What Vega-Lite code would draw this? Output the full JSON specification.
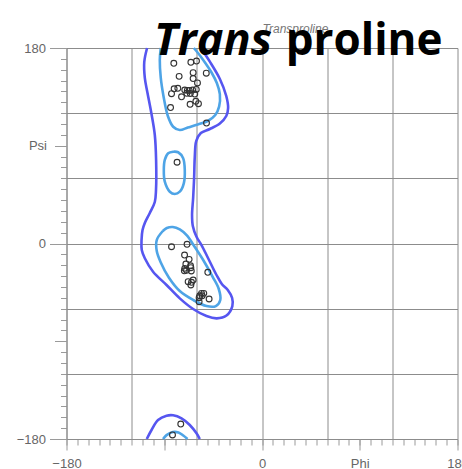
{
  "$schema": "https://vega.github.io/schema/vega-lite/v6.json",
  "autosize": {"type": "none"},
  "width": 391,
  "height": 391,
  "padding": {"left": 66.5, "top": 48, "right": 4.5, "bottom": 30},
  "background": "white",
  "config": {
    "view": {"stroke": null},
    "axis": {"labelFont": "Liberation Sans", "labelFontSize": 13, "labelColor": "#666666", "tickColor": "#9a9a9a", "domainColor": "#8c8c8c", "gridColor": "#8c8c8c", "labelFlush": false, "labelOverlap": false, "title": null}
  },
  "resolve": {"axis": {"x": "independent", "y": "independent"}},
  "datasets": {
    "contours": [
      {"id": "o1", "kind": "outer", "ord": 1, "phi": -105.8, "psi": 180},
      {"id": "o1", "kind": "outer", "ord": 2, "phi": -108.4, "psi": 167.1},
      {"id": "o1", "kind": "outer", "ord": 3, "phi": -107.9, "psi": 152.4},
      {"id": "o1", "kind": "outer", "ord": 4, "phi": -105.6, "psi": 139.5},
      {"id": "o1", "kind": "outer", "ord": 5, "phi": -101.9, "psi": 120.1},
      {"id": "o1", "kind": "outer", "ord": 6, "phi": -98.7, "psi": 99.9},
      {"id": "o1", "kind": "outer", "ord": 7, "phi": -97.5, "psi": 76.9},
      {"id": "o1", "kind": "outer", "ord": 8, "phi": -97.6, "psi": 49.2},
      {"id": "o1", "kind": "outer", "ord": 9, "phi": -98.7, "psi": 38.2},
      {"id": "o1", "kind": "outer", "ord": 10, "phi": -103.3, "psi": 28.1},
      {"id": "o1", "kind": "outer", "ord": 11, "phi": -107.9, "psi": 18.9},
      {"id": "o1", "kind": "outer", "ord": 12, "phi": -110.0, "psi": 12.4},
      {"id": "o1", "kind": "outer", "ord": 13, "phi": -110.9, "psi": 3.2},
      {"id": "o1", "kind": "outer", "ord": 14, "phi": -110.7, "psi": -6.0},
      {"id": "o1", "kind": "outer", "ord": 15, "phi": -107.9, "psi": -13.6},
      {"id": "o1", "kind": "outer", "ord": 16, "phi": -100.3, "psi": -26.0},
      {"id": "o1", "kind": "outer", "ord": 17, "phi": -87.9, "psi": -38.2},
      {"id": "o1", "kind": "outer", "ord": 18, "phi": -75.7, "psi": -50.5},
      {"id": "o1", "kind": "outer", "ord": 19, "phi": -63.4, "psi": -60.3},
      {"id": "o1", "kind": "outer", "ord": 20, "phi": -51.1, "psi": -66.8},
      {"id": "o1", "kind": "outer", "ord": 21, "phi": -41.6, "psi": -68.9},
      {"id": "o1", "kind": "outer", "ord": 22, "phi": -32.7, "psi": -66.3},
      {"id": "o1", "kind": "outer", "ord": 23, "phi": -27.3, "psi": -57.6},
      {"id": "o1", "kind": "outer", "ord": 24, "phi": -27.5, "psi": -50.2},
      {"id": "o1", "kind": "outer", "ord": 25, "phi": -31.5, "psi": -42.8},
      {"id": "o1", "kind": "outer", "ord": 26, "phi": -37.0, "psi": -37.3},
      {"id": "o1", "kind": "outer", "ord": 27, "phi": -41.9, "psi": -29.0},
      {"id": "o1", "kind": "outer", "ord": 28, "phi": -49.6, "psi": -13.6},
      {"id": "o1", "kind": "outer", "ord": 29, "phi": -55.7, "psi": -1.4},
      {"id": "o1", "kind": "outer", "ord": 30, "phi": -60.3, "psi": 6.2},
      {"id": "o1", "kind": "outer", "ord": 31, "phi": -63.7, "psi": 16.1},
      {"id": "o1", "kind": "outer", "ord": 32, "phi": -64.4, "psi": 26.2},
      {"id": "o1", "kind": "outer", "ord": 33, "phi": -63.4, "psi": 41.9},
      {"id": "o1", "kind": "outer", "ord": 34, "phi": -62.5, "psi": 60.3},
      {"id": "o1", "kind": "outer", "ord": 35, "phi": -61.9, "psi": 79.6},
      {"id": "o1", "kind": "outer", "ord": 36, "phi": -60.5, "psi": 94.4},
      {"id": "o1", "kind": "outer", "ord": 37, "phi": -56.3, "psi": 101.7},
      {"id": "o1", "kind": "outer", "ord": 38, "phi": -48.0, "psi": 105.4},
      {"id": "o1", "kind": "outer", "ord": 39, "phi": -38.8, "psi": 110.5},
      {"id": "o1", "kind": "outer", "ord": 40, "phi": -32.9, "psi": 117.4},
      {"id": "o1", "kind": "outer", "ord": 41, "phi": -31.2, "psi": 124.8},
      {"id": "o1", "kind": "outer", "ord": 42, "phi": -32.9, "psi": 135.8},
      {"id": "o1", "kind": "outer", "ord": 43, "phi": -38.8, "psi": 151.5},
      {"id": "o1", "kind": "outer", "ord": 44, "phi": -48.0, "psi": 167.4},
      {"id": "o1", "kind": "outer", "ord": 45, "phi": -56.3, "psi": 180},
      {"id": "o2", "kind": "outer", "ord": 1, "phi": -106.1, "psi": -180},
      {"id": "o2", "kind": "outer", "ord": 2, "phi": -101.7, "psi": -171.7},
      {"id": "o2", "kind": "outer", "ord": 3, "phi": -95.7, "psi": -162.5},
      {"id": "o2", "kind": "outer", "ord": 4, "phi": -87.9, "psi": -158.6},
      {"id": "o2", "kind": "outer", "ord": 5, "phi": -81.8, "psi": -158.2},
      {"id": "o2", "kind": "outer", "ord": 6, "phi": -74.1, "psi": -161.0},
      {"id": "o2", "kind": "outer", "ord": 7, "phi": -66.5, "psi": -167.1},
      {"id": "o2", "kind": "outer", "ord": 8, "phi": -60.3, "psi": -174.8},
      {"id": "o2", "kind": "outer", "ord": 9, "phi": -57.3, "psi": -180},
      {"id": "i1", "kind": "inner", "ord": 1, "phi": -93.2, "psi": 180},
      {"id": "i1", "kind": "inner", "ord": 2, "phi": -94.1, "psi": 169.0},
      {"id": "i1", "kind": "inner", "ord": 3, "phi": -93.2, "psi": 152.4},
      {"id": "i1", "kind": "inner", "ord": 4, "phi": -90.4, "psi": 134.0},
      {"id": "i1", "kind": "inner", "ord": 5, "phi": -86.7, "psi": 117.4},
      {"id": "i1", "kind": "inner", "ord": 6, "phi": -81.8, "psi": 107.5},
      {"id": "i1", "kind": "inner", "ord": 7, "phi": -75.7, "psi": 104.5},
      {"id": "i1", "kind": "inner", "ord": 8, "phi": -68.3, "psi": 106.8},
      {"id": "i1", "kind": "inner", "ord": 9, "phi": -59.1, "psi": 109.6},
      {"id": "i1", "kind": "inner", "ord": 10, "phi": -49.9, "psi": 112.8},
      {"id": "i1", "kind": "inner", "ord": 11, "phi": -43.0, "psi": 118.3},
      {"id": "i1", "kind": "inner", "ord": 12, "phi": -39.5, "psi": 126.0},
      {"id": "i1", "kind": "inner", "ord": 13, "phi": -38.8, "psi": 137.6},
      {"id": "i1", "kind": "inner", "ord": 14, "phi": -41.6, "psi": 147.8},
      {"id": "i1", "kind": "inner", "ord": 15, "phi": -46.2, "psi": 157.0},
      {"id": "i1", "kind": "inner", "ord": 16, "phi": -52.2, "psi": 166.2},
      {"id": "i1", "kind": "inner", "ord": 17, "phi": -58.2, "psi": 174.5},
      {"id": "i1", "kind": "inner", "ord": 18, "phi": -62.8, "psi": 180},
      {"id": "i2", "kind": "inner", "ord": 1, "phi": -91.1, "psi": -180},
      {"id": "i2", "kind": "inner", "ord": 2, "phi": -87.9, "psi": -176.4},
      {"id": "i2", "kind": "inner", "ord": 3, "phi": -82.1, "psi": -173.6},
      {"id": "i2", "kind": "inner", "ord": 4, "phi": -76.9, "psi": -174.0},
      {"id": "i2", "kind": "inner", "ord": 5, "phi": -72.5, "psi": -176.8},
      {"id": "i2", "kind": "inner", "ord": 6, "phi": -68.6, "psi": -180},
      {"id": "i3", "kind": "inner", "ord": 1, "phi": -81.8, "psi": 84.5},
      {"id": "i3", "kind": "inner", "ord": 2, "phi": -86.4, "psi": 83.0},
      {"id": "i3", "kind": "inner", "ord": 3, "phi": -89.5, "psi": 76.9},
      {"id": "i3", "kind": "inner", "ord": 4, "phi": -90.4, "psi": 67.7},
      {"id": "i3", "kind": "inner", "ord": 5, "phi": -89.5, "psi": 56.9},
      {"id": "i3", "kind": "inner", "ord": 6, "phi": -84.9, "psi": 47.7},
      {"id": "i3", "kind": "inner", "ord": 7, "phi": -80.3, "psi": 45.6},
      {"id": "i3", "kind": "inner", "ord": 8, "phi": -75.7, "psi": 47.7},
      {"id": "i3", "kind": "inner", "ord": 9, "phi": -72.0, "psi": 55.4},
      {"id": "i3", "kind": "inner", "ord": 10, "phi": -71.1, "psi": 67.7},
      {"id": "i3", "kind": "inner", "ord": 11, "phi": -72.6, "psi": 78.4},
      {"id": "i3", "kind": "inner", "ord": 12, "phi": -77.2, "psi": 84.0},
      {"id": "i3", "kind": "inner", "ord": 13, "phi": -81.8, "psi": 84.5},
      {"id": "i4", "kind": "inner", "ord": 1, "phi": -91.3, "psi": 11.5},
      {"id": "i4", "kind": "inner", "ord": 2, "phi": -96.9, "psi": 3.2},
      {"id": "i4", "kind": "inner", "ord": 3, "phi": -96.9, "psi": -6.9},
      {"id": "i4", "kind": "inner", "ord": 4, "phi": -93.2, "psi": -17.5},
      {"id": "i4", "kind": "inner", "ord": 5, "phi": -85.8, "psi": -31.3},
      {"id": "i4", "kind": "inner", "ord": 6, "phi": -75.7, "psi": -43.8},
      {"id": "i4", "kind": "inner", "ord": 7, "phi": -63.4, "psi": -52.0},
      {"id": "i4", "kind": "inner", "ord": 8, "phi": -51.1, "psi": -57.6},
      {"id": "i4", "kind": "inner", "ord": 9, "phi": -42.5, "psi": -57.6},
      {"id": "i4", "kind": "inner", "ord": 10, "phi": -38.4, "psi": -52.0},
      {"id": "i4", "kind": "inner", "ord": 11, "phi": -39.8, "psi": -41.9},
      {"id": "i4", "kind": "inner", "ord": 12, "phi": -45.3, "psi": -30.9},
      {"id": "i4", "kind": "inner", "ord": 13, "phi": -53.6, "psi": -16.1},
      {"id": "i4", "kind": "inner", "ord": 14, "phi": -61.9, "psi": -3.2},
      {"id": "i4", "kind": "inner", "ord": 15, "phi": -69.2, "psi": 7.4},
      {"id": "i4", "kind": "inner", "ord": 16, "phi": -75.7, "psi": 12.9},
      {"id": "i4", "kind": "inner", "ord": 17, "phi": -82.1, "psi": 15.2},
      {"id": "i4", "kind": "inner", "ord": 18, "phi": -87.6, "psi": 14.3},
      {"id": "i4", "kind": "inner", "ord": 19, "phi": -91.3, "psi": 11.5}
    ],
    "points": [
      {"phi": -81.2, "psi": 165.9}, {"phi": -65.5, "psi": 166.8}, {"phi": -60.3, "psi": 168.0},
      {"phi": -76.3, "psi": 153.9}, {"phi": -63.4, "psi": 157.3}, {"phi": -63.4, "psi": 151.9},
      {"phi": -59.4, "psi": 147.8}, {"phi": -51.3, "psi": 156.8}, {"phi": -80.9, "psi": 142.4},
      {"phi": -77.5, "psi": 142.9}, {"phi": -83.3, "psi": 137.9}, {"phi": -74.1, "psi": 135.1},
      {"phi": -71.1, "psi": 141.3}, {"phi": -68.8, "psi": 141.0}, {"phi": -67.0, "psi": 140.9},
      {"phi": -63.9, "psi": 141.3}, {"phi": -60.5, "psi": 141.8}, {"phi": -61.9, "psi": 137.6},
      {"phi": -66.0, "psi": 138.1}, {"phi": -69.2, "psi": 138.3}, {"phi": -60.9, "psi": 130.9},
      {"phi": -58.5, "psi": 128.7}, {"phi": -66.2, "psi": 128.2}, {"phi": -84.2, "psi": 125.2},
      {"phi": -51.1, "psi": 110.9},
      {"phi": -78.2, "psi": 74.8},
      {"phi": -83.3, "psi": -3.0}, {"phi": -69.0, "psi": -0.7}, {"phi": -71.3, "psi": -10.6},
      {"phi": -67.1, "psi": -14.6}, {"phi": -70.1, "psi": -18.9}, {"phi": -71.1, "psi": -22.9},
      {"phi": -71.5, "psi": -25.1}, {"phi": -65.5, "psi": -22.3}, {"phi": -65.1, "psi": -25.3},
      {"phi": -69.5, "psi": -24.7}, {"phi": -65.8, "psi": -20.5}, {"phi": -49.9, "psi": -26.5},
      {"phi": -63.4, "psi": -33.6}, {"phi": -64.9, "psi": -35.7}, {"phi": -68.0, "psi": -35.2},
      {"phi": -65.5, "psi": -38.2}, {"phi": -55.7, "psi": -45.9}, {"phi": -57.3, "psi": -48.1},
      {"phi": -53.6, "psi": -45.9}, {"phi": -57.9, "psi": -49.9}, {"phi": -55.1, "psi": -48.1},
      {"phi": -48.7, "psi": -51.1}, {"phi": -57.9, "psi": -53.6},
      {"phi": -74.8, "psi": -166.2}, {"phi": -82.4, "psi": -176.3}
    ]
  },
  "layer": [
    {
      "data": {"name": "points"},
      "mark": {"type": "point", "opacity": 0},
      "encoding": {
        "x": {
          "field": "phi", "type": "quantitative",
          "scale": {"domain": [-180, 180], "nice": false, "zero": false},
          "axis": {"orient": "bottom", "values": [-180, -120, -60, 0, 60, 120, 180], "grid": true, "gridOpacity": 1, "gridWidth": 1, "ticks": false, "labels": false, "domain": false}
        },
        "y": {
          "field": "psi", "type": "quantitative",
          "scale": {"domain": [-180, 180], "nice": false, "zero": false},
          "axis": {"orient": "left", "values": [-180, -120, -60, 0, 60, 120, 180], "grid": true, "gridOpacity": 1, "gridWidth": 1, "ticks": false, "labels": false, "domain": false}
        }
      }
    },
    {
      "data": {"name": "contours"},
      "mark": {"type": "line", "strokeWidth": 2.6, "interpolate": "catmull-rom"},
      "encoding": {
        "x": {
          "field": "phi", "type": "quantitative",
          "axis": {
            "orient": "bottom",
            "values": [-180,-170,-160,-150,-140,-130,-120,-110,-100,-90,-80,-70,-60,-50,-40,-30,-20,-10,0,10,20,30,40,50,60,70,80,90,100,110,120,130,140,150,160,170,180],
            "labels": false, "grid": false, "tickSize": 6, "domain": true
          }
        },
        "y": {
          "field": "psi", "type": "quantitative",
          "axis": {
            "orient": "left",
            "values": [-180,-170,-160,-150,-140,-130,-120,-110,-100,-90,-80,-70,-60,-50,-40,-30,-20,-10,0,10,20,30,40,50,60,70,80,90,100,110,120,130,140,150,160,170,180],
            "labels": false, "grid": false, "tickSize": 6, "domain": true
          }
        },
        "color": {
          "field": "kind", "type": "nominal",
          "scale": {"domain": ["outer", "inner"], "range": ["#5656f0", "#4ea4e6"]},
          "legend": null
        },
        "detail": {"field": "id"},
        "order": {"field": "ord", "type": "quantitative"}
      }
    },
    {
      "data": {"name": "points"},
      "mark": {"type": "point", "shape": "circle", "filled": false, "stroke": "#333333", "strokeWidth": 1.1, "size": 34, "opacity": 1},
      "encoding": {
        "x": {"field": "phi", "type": "quantitative", "axis": {"orient": "bottom", "values": [-180, 0, 180], "tickSize": 11, "labelPadding": 7, "grid": false, "domain": false}},
        "y": {"field": "psi", "type": "quantitative", "axis": {"orient": "left", "values": [-180, 0, 180], "tickSize": 17, "labelPadding": 4, "grid": false, "domain": false}}
      }
    },
    {
      "data": {"values": [{}]},
      "mark": {"type": "text", "text": "Transproline", "font": "Liberation Sans", "fontStyle": "italic", "fontSize": 12, "color": "#777777", "align": "left", "baseline": "alphabetic"},
      "encoding": {
        "x": {"datum": 0.5, "type": "quantitative", "axis": {"orient": "bottom", "values": [90], "tickSize": 11, "labelPadding": 7, "labelExpr": "'Phi'", "grid": false, "domain": false}},
        "y": {"datum": 194, "type": "quantitative", "axis": {"orient": "left", "values": [90], "tickSize": 12, "labelPadding": 8, "labelExpr": "'Psi'", "grid": false, "domain": false}}
      }
    },
    {
      "data": {"values": [{}]},
      "mark": {"type": "text", "text": "Trans", "font": "Open Sans", "fontStyle": "italic", "fontWeight": "bold", "fontSize": 45, "color": "#000000", "align": "left", "baseline": "alphabetic"},
      "encoding": {
        "x": {"datum": -99.5, "type": "quantitative", "axis": {"orient": "bottom", "values": [-90], "tickSize": 11, "labels": false, "grid": false, "domain": false}},
        "y": {"datum": 173.6, "type": "quantitative", "axis": {"orient": "left", "values": [-90], "tickSize": 12, "labels": false, "grid": false, "domain": false}}
      }
    },
    {
      "data": {"values": [{}]},
      "mark": {"type": "text", "text": "proline", "font": "Open Sans", "fontWeight": "bold", "fontSize": 44, "color": "#000000", "align": "left", "baseline": "alphabetic"},
      "encoding": {
        "x": {"datum": 21.8, "type": "quantitative", "axis": null},
        "y": {"datum": 173.6, "type": "quantitative", "axis": null}
      }
    }
  ]
}
